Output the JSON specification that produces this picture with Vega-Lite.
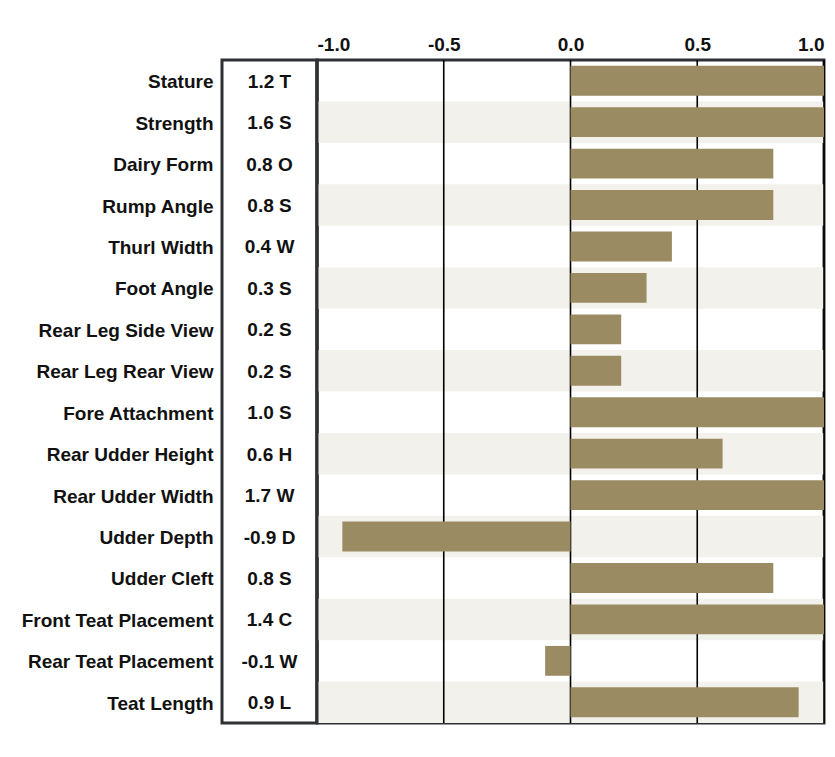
{
  "$schema": "https://vega.github.io/schema/vega-lite/v6.json",
  "background": "white",
  "padding": {"left": 19, "top": 33, "right": 8, "bottom": 30},
  "spacing": 0,
  "bounds": "flush",
  "config": {
    "font": "Liberation Sans",
    "view": {"stroke": "#2e3033", "strokeWidth": 3},
    "axis": {"labelFont": "Liberation Sans", "labelFontWeight": "bold", "labelFontSize": 19, "labelColor": "#111"}
  },
  "data": {
    "values": [
      {"trait": "Stature", "value": 1.2, "label": "1.2 T"},
      {"trait": "Strength", "value": 1.6, "label": "1.6 S"},
      {"trait": "Dairy Form", "value": 0.8, "label": "0.8 O"},
      {"trait": "Rump Angle", "value": 0.8, "label": "0.8 S"},
      {"trait": "Thurl Width", "value": 0.4, "label": "0.4 W"},
      {"trait": "Foot Angle", "value": 0.3, "label": "0.3 S"},
      {"trait": "Rear Leg Side View", "value": 0.2, "label": "0.2 S"},
      {"trait": "Rear Leg Rear View", "value": 0.2, "label": "0.2 S"},
      {"trait": "Fore Attachment", "value": 1.0, "label": "1.0 S"},
      {"trait": "Rear Udder Height", "value": 0.6, "label": "0.6 H"},
      {"trait": "Rear Udder Width", "value": 1.7, "label": "1.7 W"},
      {"trait": "Udder Depth", "value": -0.9, "label": "-0.9 D"},
      {"trait": "Udder Cleft", "value": 0.8, "label": "0.8 S"},
      {"trait": "Front Teat Placement", "value": 1.4, "label": "1.4 C"},
      {"trait": "Rear Teat Placement", "value": -0.1, "label": "-0.1 W"},
      {"trait": "Teat Length", "value": 0.9, "label": "0.9 L"}
    ]
  },
  "hconcat": [
    {
      "width": 95,
      "height": 663,
      "mark": {"type": "text", "font": "Liberation Sans", "fontWeight": "bold", "fontSize": 19, "color": "#111", "align": "center", "baseline": "middle", "dy": 1},
      "encoding": {
        "y": {"field": "trait", "type": "nominal",
              "sort": ["Stature", "Strength", "Dairy Form", "Rump Angle", "Thurl Width", "Foot Angle", "Rear Leg Side View", "Rear Leg Rear View", "Fore Attachment", "Rear Udder Height", "Rear Udder Width", "Udder Depth", "Udder Cleft", "Front Teat Placement", "Rear Teat Placement", "Teat Length"],
              "scale": {"paddingInner": 0, "paddingOuter": 0},
              "axis": {"title": null, "ticks": false, "domain": false, "labelPadding": 9, "labelLimit": 300, "labelOffset": 1}},
        "text": {"field": "label"}
      }
    },
    {
      "width": 507,
      "height": 663,
      "layer": [
        {
          "transform": [
            {"window": [{"op": "row_number", "as": "idx"}]},
            {"filter": "datum.idx % 2 == 0"}
          ],
          "mark": {"type": "rect", "color": "#f3f1ec"},
          "encoding": {
            "y": {"field": "trait", "type": "nominal",
                  "sort": ["Stature", "Strength", "Dairy Form", "Rump Angle", "Thurl Width", "Foot Angle", "Rear Leg Side View", "Rear Leg Rear View", "Fore Attachment", "Rear Udder Height", "Rear Udder Width", "Udder Depth", "Udder Cleft", "Front Teat Placement", "Rear Teat Placement", "Teat Length"],
                  "scale": {"domain": ["Stature", "Strength", "Dairy Form", "Rump Angle", "Thurl Width", "Foot Angle", "Rear Leg Side View", "Rear Leg Rear View", "Fore Attachment", "Rear Udder Height", "Rear Udder Width", "Udder Depth", "Udder Cleft", "Front Teat Placement", "Rear Teat Placement", "Teat Length"], "paddingInner": 0, "paddingOuter": 0},
                  "axis": null}
          }
        },
        {
          "data": {"values": [{"g": -0.5}, {"g": 0}, {"g": 0.5}, {"g": 1}]},
          "mark": {"type": "rule", "color": "#000", "strokeWidth": 1.6},
          "encoding": {"x": {"field": "g", "type": "quantitative", "scale": {"domain": [-1, 1], "nice": false}}}
        },
        {
          "data": {"values": [{"g": -1}]},
          "mark": {"type": "rule", "color": "#2e3033", "strokeWidth": 3},
          "encoding": {"x": {"field": "g", "type": "quantitative"}}
        },
        {
          "mark": {"type": "bar", "color": "#9b8b63", "height": {"band": 0.72}, "clip": true},
          "encoding": {
            "y": {"field": "trait", "type": "nominal",
                  "sort": ["Stature", "Strength", "Dairy Form", "Rump Angle", "Thurl Width", "Foot Angle", "Rear Leg Side View", "Rear Leg Rear View", "Fore Attachment", "Rear Udder Height", "Rear Udder Width", "Udder Depth", "Udder Cleft", "Front Teat Placement", "Rear Teat Placement", "Teat Length"],
                  "axis": null},
            "x": {"field": "value", "type": "quantitative",
                  "scale": {"domain": [-1, 1], "nice": false},
                  "axis": {"orient": "top", "title": null, "values": [-1, -0.5, 0, 0.5, 1],
                           "labelExpr": "(datum.value < 0 ? '-' : '') + format(abs(datum.value), '.1f')",
                           "grid": false, "ticks": false, "domain": false, "labelPadding": 6, "labelFlush": true}}
          }
        }
      ]
    }
  ]
}
